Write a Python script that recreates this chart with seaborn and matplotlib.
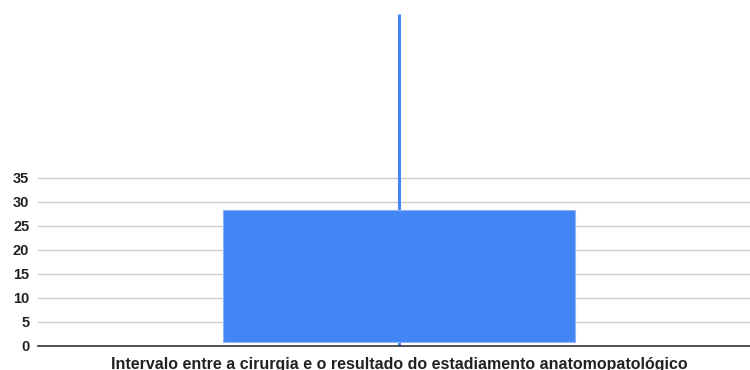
import matplotlib
matplotlib.use("Agg")
import matplotlib.pyplot as plt
import seaborn as sns
import pandas as pd

# Candlestick values for the single category
categories = ["Intervalo entre a cirurgia e o resultado do estadiamento anatomopatológico"]
low_values = [0.0]
open_values = [0.7]
close_values = [28.2]
high_values = [69.0]
y_ticks = [0, 5, 10, 15, 20, 25, 30, 35]

df = pd.DataFrame({
    "categoria": categories,
    "abertura": open_values,
    "fecho": close_values,
    "minimo": low_values,
    "maximo": high_values,
})
df["altura"] = df["fecho"] - df["abertura"]

sns.set_theme(style="white")
plt.rcParams["font.family"] = ["Liberation Sans", "DejaVu Sans"]

W, H = 750, 370
fig = plt.figure(figsize=(W / 100, H / 100), dpi=100)
left, right = 38.3, 760.0
bottom_px, top_px = 345.7, 14.3
ax = fig.add_axes([left / W, (H - bottom_px) / H,
                   (right - left) / W, (bottom_px - top_px) / H])

blue = "#4285F4"

# Wick (low-high)
ax.vlines(x=range(len(df)), ymin=df["minimo"], ymax=df["maximo"],
          color=blue, linewidth=2.2, zorder=2)

# Body (open-close)
sns.barplot(data=df, x="categoria", y="altura", bottom=df["abertura"],
            color=blue, saturation=1, width=0.487, ax=ax,
            edgecolor="#8fb4f8", linewidth=0.8, zorder=3)

ax.set_xlim(-0.5, 0.5)
ax.set_ylim(0, 69.0)
ax.set_yticks(y_ticks)
ax.set_yticklabels([str(t) for t in y_ticks], fontsize=10.5,
                   fontweight="bold", color="#222222")
ax.tick_params(axis="y", length=0, pad=6.5)
ax.tick_params(axis="x", length=0, pad=7.8)
for lbl in ax.get_xticklabels():
    lbl.set_fontsize(11.5)
    lbl.set_fontweight("bold")
    lbl.set_color("#222222")

ax.set_xlabel("")
ax.set_ylabel("")
ax.grid(axis="y", color="#cccccc", linewidth=1.0, zorder=0)
ax.set_axisbelow(True)
for s in ["top", "right", "left"]:
    ax.spines[s].set_visible(False)
ax.spines["bottom"].set_color("#333333")
ax.spines["bottom"].set_linewidth(1.2)
ax.spines["bottom"].set_zorder(4)

fig.savefig("out.png", dpi=100, facecolor="white")
